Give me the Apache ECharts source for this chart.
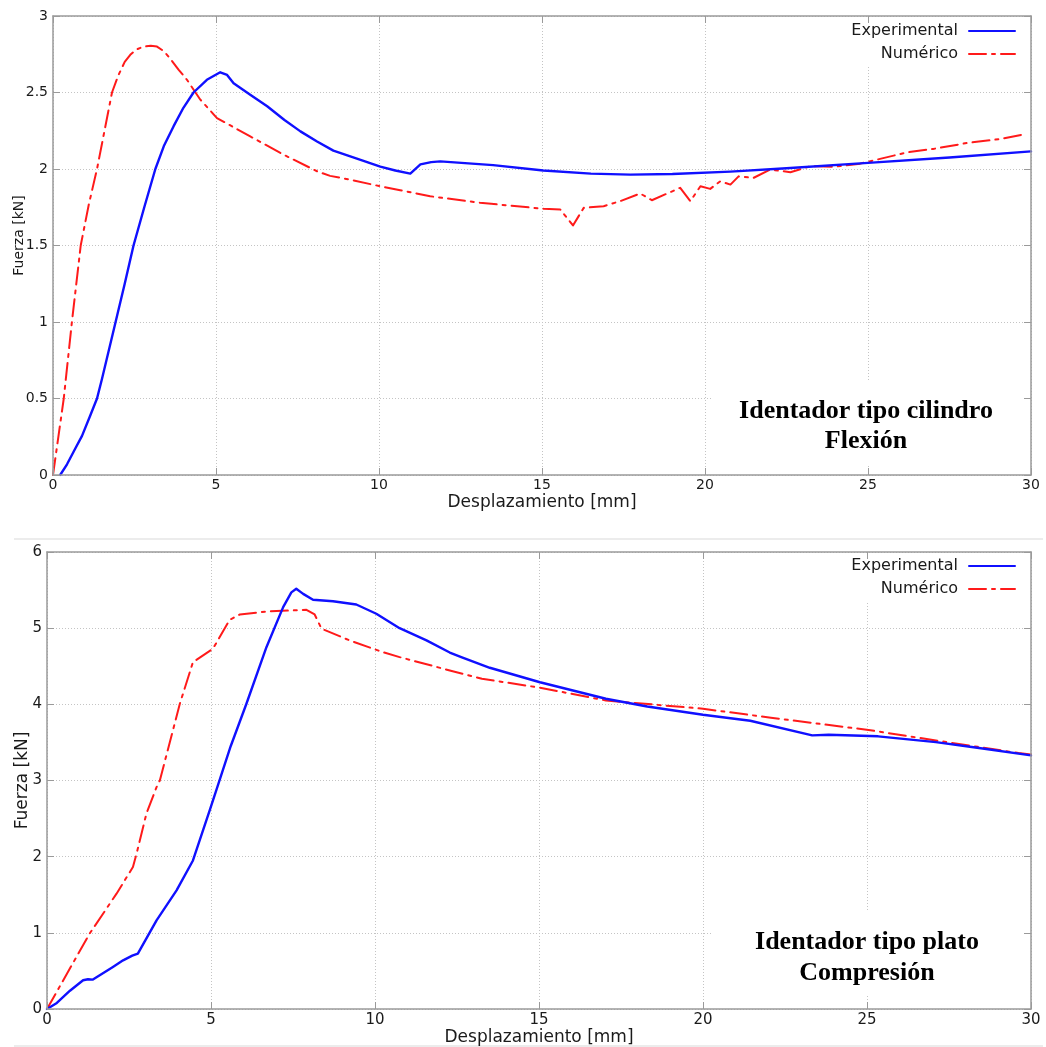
<!DOCTYPE html>
<html>
<head>
<meta charset="utf-8">
<script src="https://cdn.jsdelivr.net/npm/echarts@6.0.0/dist/echarts.min.js"></script>
<style>
html,body{margin:0;padding:0;background:#fff;}
#chart{width:1046px;height:1047px;}
</style>
</head>
<body>
<div id="chart"></div>
<script>
// ---- Data (x: desplazamiento [mm], y: fuerza [kN]) ----
const xTicks = [0, 5, 10, 15, 20, 25, 30];
const seriesNames = ['Experimental', 'Numérico'];

// Identador tipo cilindro - Flexión
const flexExperimental = [
  [0.22,0],[0.43,0.07],[0.7,0.18],[0.89,0.256],[1.14,0.387],[1.35,0.5],[1.5,0.626],[1.92,1.0],
  [2.2,1.25],[2.47,1.5],[2.8,1.75],[3.14,2.0],[3.4,2.15],[3.7,2.28],[4.0,2.4],[4.31,2.5],
  [4.72,2.583],[5.13,2.632],[5.34,2.615],[5.54,2.56],[6.05,2.485],[6.57,2.41],[7.1,2.32],
  [7.59,2.246],[8.1,2.18],[8.6,2.12],[9.3,2.07],[10.04,2.015],[10.5,1.99],[10.96,1.97],
  [11.27,2.03],[11.6,2.045],[11.88,2.05],[13.5,2.025],[15.04,1.99],[16.5,1.97],[17.71,1.963],
  [19,1.967],[20.78,1.983],[22.5,2.005],[25,2.04],[27.5,2.075],[30,2.115]
];
const flexNumerico = [
  [0,0],[0.33,0.5],[0.58,1.0],[0.85,1.5],[1.1,1.77],[1.35,2.0],[1.81,2.5],[2.0,2.61],[2.2,2.7],
  [2.37,2.746],[2.55,2.78],[2.78,2.8],[3.0,2.805],[3.19,2.8],[3.4,2.77],[3.6,2.72],[3.85,2.65],
  [4.11,2.583],[4.52,2.453],[5.03,2.333],[6.05,2.213],[7.07,2.094],[8.1,1.985],[8.5,1.955],
  [9.12,1.93],[10.04,1.887],[10.65,1.861],[11.57,1.822],[13.1,1.779],[15.05,1.74],[15.56,1.735],
  [15.95,1.631],[16.28,1.746],[16.89,1.757],[17.4,1.79],[18.01,1.84],[18.37,1.796],[19.24,1.877],
  [19.55,1.79],[19.86,1.887],[20.16,1.87],[20.47,1.92],[20.78,1.898],[21.03,1.952],[21.49,1.942],
  [22.0,1.996],[22.62,1.979],[23.23,2.018],[23.94,2.014],[24.76,2.035],[25.37,2.066],[26.2,2.109],
  [27.0,2.131],[28.04,2.17],[29.06,2.196],[29.72,2.224]
];

// Identador tipo plato - Compresión
const compExperimental = [
  [0,0],[0.3,0.08],[0.7,0.24],[1.1,0.377],[1.25,0.39],[1.4,0.386],[2.01,0.551],[2.32,0.639],
  [2.6,0.7],[2.77,0.727],[3.34,1.164],[3.95,1.558],[4.45,1.95],[4.96,2.608],[5.16,2.87],
  [5.6,3.45],[6.08,4.008],[6.69,4.75],[7.2,5.276],[7.45,5.47],[7.6,5.517],[7.81,5.45],
  [8.11,5.373],[8.72,5.354],[9.43,5.311],[10.04,5.189],[10.75,5.0],[11.57,4.839],[12.28,4.68],
  [12.63,4.62],[13.5,4.48],[15.03,4.29],[17.04,4.073],[18.3,3.972],[20.0,3.863],[21.44,3.785],
  [23.33,3.592],[23.83,3.6],[25.34,3.58],[27.1,3.504],[28.36,3.43],[30,3.33]
];
const compNumerico = [
  [0,0],[1.3,0.99],[2.12,1.514],[2.62,1.864],[2.73,2.039],[3.03,2.564],[3.34,2.913],[3.44,3.0],
  [4.05,4.008],[4.45,4.554],[5.06,4.73],[5.57,5.11],[5.88,5.18],[6.69,5.219],[7.91,5.241],
  [8.16,5.18],[8.37,4.992],[9.23,4.839],[10.24,4.685],[10.75,4.62],[12.28,4.445],[13.26,4.336],
  [15.03,4.218],[17.04,4.051],[20.0,3.942],[22.07,3.824],[24.99,3.667],[27.1,3.526],[29.62,3.36],
  [30,3.343]
];

const FONT = 'DejaVu Sans';
const AXIS_COLOR = '#9a9a9a';
const TEXT_COLOR = '#1a1a1a';
const BLUE = '#1010ff';
const RED = '#ff1a1a';
const DASHDOT = [17, 6, 3, 6];

function makeAxes(gi, opt) {
  const xs = {type:'value', gridIndex:gi, min:xTicks[0], max:xTicks[xTicks.length-1], interval:5};
  const ys = {type:'value', gridIndex:gi, min:0, max:opt.ymax, interval:opt.yint};
  const grid = {show:true, lineStyle:{color:'#c4c4c4', type:[1,2], width:1}};
  const line = {show:true, onZero:false, lineStyle:{color:AXIS_COLOR, width:1.5}};
  const tick = {show:true, inside:true, length:7, lineStyle:{color:AXIS_COLOR, width:1}};
  const none = {show:false};
  const x = [
    Object.assign({}, xs, {position:'bottom', z:0, axisLine:none, axisTick:none, axisLabel:none, splitLine:grid}),
    Object.assign({}, xs, {position:'bottom', z:5, axisLine:line, axisTick:tick, splitLine:none,
      axisLabel:{margin:opt.xlm, color:TEXT_COLOR, fontSize:opt.tfs, fontFamily:FONT},
      name:'Desplazamiento [mm]', nameLocation:'middle', nameGap:opt.xng, nameMoveOverlap:false,
      nameTextStyle:{fontSize:17, fontFamily:FONT, color:TEXT_COLOR}}),
    Object.assign({}, xs, {position:'top', z:5, axisLine:line, axisTick:tick, axisLabel:none, splitLine:none})
  ];
  const y = [
    Object.assign({}, ys, {position:'left', z:0, axisLine:none, axisTick:none, axisLabel:none, splitLine:grid}),
    Object.assign({}, ys, {position:'left', z:5, axisLine:line, axisTick:tick, splitLine:none,
      axisLabel:{margin:5, color:TEXT_COLOR, fontSize:opt.tfs, fontFamily:FONT},
      name:'Fuerza [kN]', nameLocation:'middle', nameGap:opt.yng, nameRotate:90, nameMoveOverlap:false,
      nameTextStyle:{fontSize:opt.yfs, fontFamily:FONT, color:TEXT_COLOR, padding:opt.ypad}}),
    Object.assign({}, ys, {position:'right', z:5, axisLine:line, axisTick:tick, axisLabel:none, splitLine:none})
  ];
  return {x, y};
}

const a0 = makeAxes(0, {ymax:3, yint:0.5, tfs:14, xlm:3, xng:19, yng:27, yfs:14, ypad:[0,0,0,20]});
const a1 = makeAxes(1, {ymax:6, yint:1, tfs:15, xlm:4, xng:20, yng:16, yfs:17, ypad:[0,0,0,0]});

function legendFor(name, top) {
  return {
    show:true, orient:'horizontal', right:30, top:top, align:'right', padding:0,
    itemWidth:46, itemHeight:14, selectedMode:false,
    itemStyle:{opacity:0},
    textStyle:{fontSize:16, fontFamily:FONT, color:TEXT_COLOR, padding:[0,6,0,0]},
    data:[name]
  };
}

function lineSeries(name, data, xi, yi, color, type, width) {
  return {
    type:'line', name:name, data:data, xAxisIndex:xi, yAxisIndex:yi,
    symbol:'none', showSymbol:false, smooth:false, animation:false, z:2,
    lineStyle:{color:color, width:width, type:type, join:'round', cap:'round'}, itemStyle:{color:color}
  };
}

function whiteRect(x, y, w, h) {
  return {type:'rect', z:1, silent:true, shape:{x:x, y:y, width:w, height:h}, style:{fill:'#ffffff'}};
}
function label(text, x, y) {
  return {type:'text', z:10, silent:true, x:x, y:y,
    style:{text:text, fill:'#000', font:'bold 26px "Liberation Serif", "Times New Roman", serif', align:'center', verticalAlign:'middle'}};
}

const option = {
  backgroundColor:'#ffffff',
  animation:false,
  grid:[
    {left:53, top:16, width:978, height:459, containLabel:false, outerBoundsMode:'none'},
    {left:47, top:552, width:984, height:457, containLabel:false, outerBoundsMode:'none'}
  ],
  xAxis: a0.x.concat(a1.x),
  yAxis: a0.y.concat(a1.y),
  legend:[
    legendFor(seriesNames[0], 23),
    legendFor(seriesNames[1], 46),
    legendFor(seriesNames[0], 558),
    legendFor(seriesNames[1], 581)
  ],
  graphic:{elements:[
    {type:'line', z:1, silent:true, shape:{x1:14, y1:539, x2:1043, y2:539}, style:{stroke:'#e6e6e6', lineWidth:1.5}},
    {type:'line', z:1, silent:true, shape:{x1:14, y1:1046, x2:1043, y2:1046}, style:{stroke:'#e6e6e6', lineWidth:1.5}},
    whiteRect(843, 17, 180, 49),
    whiteRect(843, 553, 180, 49),
    whiteRect(713, 381, 310, 85),
    whiteRect(712, 911, 311, 85),
    label('Identador tipo cilindro', 866, 411),
    label('Flexión', 866, 441),
    label('Identador tipo plato', 867, 942),
    label('Compresión', 867, 973)
  ]},
  series:[
    lineSeries(seriesNames[1], flexNumerico, 0, 0, RED, DASHDOT, 2),
    lineSeries(seriesNames[0], flexExperimental, 0, 0, BLUE, 'solid', 2.4),
    lineSeries(seriesNames[1], compNumerico, 3, 3, RED, DASHDOT, 2),
    lineSeries(seriesNames[0], compExperimental, 3, 3, BLUE, 'solid', 2.4)
  ]
};

const chart = echarts.init(document.getElementById('chart'), null, {renderer:'canvas'});
chart.setOption(option);
</script>
</body>
</html>
